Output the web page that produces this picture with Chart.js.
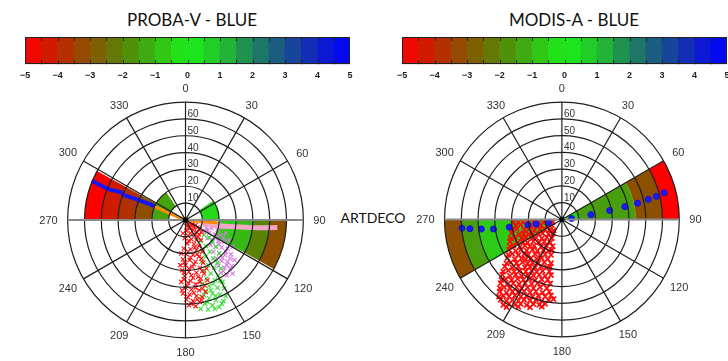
<!DOCTYPE html>
<html>
<head>
<meta charset="utf-8">
<script src="https://cdn.jsdelivr.net/npm/chart.js@4.4.0/dist/chart.umd.min.js"></script>
<style>
  html, body { margin: 0; padding: 0; width: 728px; height: 361px; overflow: hidden; background: #fff; }
  canvas { position: absolute; }
  .txt { position: absolute; font-family: Lato, "Open Sans", sans-serif; color: #111; transform: translateX(-50%); white-space: nowrap; }
</style>
</head>
<body>
<div class="txt" style="left:192px; top:10px; font-size:17px; line-height:20px">PROBA-V - BLUE</div>
<div class="txt" style="left:574px; top:10px; font-size:17px; line-height:20px">MODIS-A - BLUE</div>
<div class="txt" style="left:373px; top:210px; font-size:14px; line-height:16px">ARTDECO</div>
<canvas id="cbLeft" width="346" height="59" style="left:14px; top:30px"></canvas>
<canvas id="cbRight" width="346" height="59" style="left:391px; top:30px"></canvas>
<canvas id="polarLeft" width="341" height="285" style="left:15px; top:76px"></canvas>
<canvas id="polarRight" width="338" height="285" style="left:390px; top:76px"></canvas>
<script>
// colour bar: band centres and labelled ticks
const cbBands = [-4.75, -4.25, -3.75, -3.25, -2.75, -2.25, -1.75, -1.25, -0.75, -0.25,
                 0.25, 0.75, 1.25, 1.75, 2.25, 2.75, 3.25, 3.75, 4.25, 4.75];
const cbTicks = [-5, -4, -3, -2, -1, 0, 1, 2, 3, 4, 5];
const cbMinor = [-4.5, -4, -3.5, -3, -2.5, -2, -1.5, -1, -0.5, 0, 0.5, 1, 1.5, 2, 2.5, 3, 3.5, 4, 4.5];

// polar axes: zenith rings and azimuth spokes
const zenithRings = [10, 20, 30, 40, 50, 60, 70];
const zenithLabels = [10, 20, 30, 40, 50, 60];
const azimuthTicks = [0, 30, 60, 90, 120, 150, 180, 210, 240, 270, 300, 330];
const azimuthLabels = ['0', '30', '60', '90', '120', '150', '180', '209', '240', '270', '300', '330'];

// sectors: [az from, az to, zenith from, zenith to, value on colour bar]
const probaSectors = [
  [270, 299, 20, 30, -3.1], [270, 299, 30, 40, -3.7], [270, 299, 40, 50, -4.2], [270, 299, 50, 60, -5],
  [270, 325, 10, 20, -1.4],
  [55, 90, 10, 20, -0.4],
  [90, 119, 20, 30, -0.6], [90, 119, 30, 40, -1.0], [90, 119, 40, 50, -2.0], [90, 119, 50, 60, -3.1]
];
const modisSectors = [
  [60, 90, 2, 10, -0.4], [60, 90, 10, 44, -1.5], [60, 90, 44, 60, -3.1], [60, 90, 60, 70, -5],
  [240, 270, 5, 50, -0.7], [240, 270, 50, 60, -1.5], [240, 270, 60, 70, -3.1]
];

// lines: [azimuth, zenith]
const probaBlue = [[292.8, 60.4], [292.2, 52.9], [291.8, 49.6], [293.5, 41.9], [292.1, 39.4], [293.1, 31.3], [293.2, 29.3], [294.2, 22.1], [293.4, 20.3]];
const probaOrange = [[293.4, 20.3], [292, 10], [0, 0], [96, 10], [95, 19]];
const probaPink = [[104.3, 9.3], [101.3, 15.3], [99.9, 20.3], [98.5, 26.3], [97.5, 32.3], [96.8, 38.3], [96, 44.2], [95.3, 50.2], [94.7, 54.7]];
const modisBlue = [[265, 59.8], [264.2, 55.1], [263.2, 48.4], [262, 41.2], [261.6, 31.7], [260.8, 20.5], [260, 15.6], [256.7, 8.3],
                   [84.3, 5.8], [80.5, 17.5], [79.3, 29], [78.4, 38.3], [77.8, 46.2], [76.8, 52.9], [76.2, 58], [75.3, 63]];

// point clouds: [east, north] in zenith degrees
const probaRed = [[0.5,-1.5],[2,-2],[3.5,-3],[1,-3.5],[5,-4],[7,-4.5],[2.5,-5],[4.5,-6],[8.5,-5.5],[0.5,-6.5],[6.5,-7],[3,-8],[9.5,-7.5],
  [1.5,-9.5],[5.5,-9],[7.5,-10],[-0.5,-11],[3.5,-11.5],[9,-12],[1,-14],[5,-14.5],[8,-15.5],[-1,-17],[3,-17.5],[6.5,-18],[10,-19],
  [0.5,-20.5],[4.5,-21],[8,-22],[-1.5,-23.5],[2.5,-24],[6,-25],[10.5,-25.5],[0,-27],[4,-28],[8.5,-28.5],[-2,-30],[2,-31],[6.5,-31.5],
  [11,-32],[-0.5,-33.5],[4.5,-34.5],[9,-35],[-2.5,-37],[1.5,-37.5],[6,-38.5],[11.5,-39],[0,-40.5],[3.5,-41.5],[8,-42],[-1.5,-44],
  [2.5,-44.5],[6.5,-45.5],[10,-46],[0.5,-47.5],[4.5,-48.5],[8.5,-49],[2,-51],[6,-51.5],[12,-43],[13,-36],[-3,-27],[12.5,-29],
  [1.5,-4.5],[4,-2.5],[6,-3],[8,-8.5],[2,-12.5],[6.5,-12],[-1.5,-8],[5.5,-16.5],[1.5,-19],[-2.5,-20],[7,-20.5],[3,-22.5],
  [9.5,-23],[-0.5,-25.5],[5,-26.5],[2,-29],[10,-30.5],[-1,-31.5],[3.5,-33],[7.5,-34],[-1,-35.5],[3,-36.5],[8.5,-37],[1,-39.5],
  [6,-40.5],[10,-41],[-2,-42],[5,-43.5],[1.5,-46],[7,-47.5],[3.5,-50],[9.5,-48]];
const probaGreen = [[11,-9],[14,-10.5],[9,-12.5],[16,-13],[12,-15.5],[18,-16],[10,-18.5],[14.5,-19],[20,-20],[12,-22],[16.5,-23],
  [9.5,-25],[19,-25.5],[13.5,-27],[17,-28.5],[21,-29],[11,-30.5],[15,-32],[19.5,-33],[12.5,-35],[17.5,-36],[22,-37],[10,-38],
  [14,-39.5],[19,-40.5],[23,-41],[12,-42.5],[16,-44],[20.5,-44.5],[9.5,-46],[14,-47],[18,-48],[22.5,-48.5],[11.5,-50],[16,-51],
  [20,-52],[13.5,-53.5],[9,-53],[15,-42],[18,-45.5],[13,-49],[17.5,-53],[21.5,-50],[11,-45],[24,-45.5],[16.5,-38],[20.5,-36.5]];
const probaViolet = [[11,-2],[14,-1.5],[17,-3],[20,-2.5],[12.5,-4.5],[15.5,-5],[19,-6],[22,-4.5],[11,-7],[14,-8],[17.5,-8.5],[21,-9],
  [24,-8],[13,-11],[16,-12],[19.5,-12.5],[23,-13],[26,-12],[15,-15],[18,-16],[21.5,-16.5],[25,-17],[28,-16],[16.5,-19],[20,-20],
  [23.5,-21],[27,-20.5],[18,-23],[21.5,-24.5],[25,-25],[29,-24],[19.5,-27.5],[23,-28.5],[26.5,-29],[21,-31.5],[24.5,-33],[28,-32],
  [13,-6],[18.5,-10.5],[16,-3.5],[22.5,-11],[20,-14.5],[24,-19],[22,-22.5],[26.5,-23],[24.5,-27],[27.5,-27.5],[22.5,-30.5]];
const modisRed = [
  [-29,-1.5],[-26,-1.8],[-23,-1.4],[-20,-1.7],[-17,-1.5],[-14,-1.8],[-11,-1.4],[-8,-1.6],[-5.5,-1.5],
  [-27.5,-3.9],[-24.5,-3.2],[-21,-3.7],[-18.5,-3.3],[-15,-4],[-12.5,-3.4],[-9,-3.8],[-6,-3.3],
  [-29.5,-6.3],[-27,-5.6],[-22.5,-6.4],[-19.5,-5.8],[-16.5,-6.5],[-13,-5.7],[-10,-6.2],[-7,-5.9],[-5,-6.6],
  [-30,-8.2],[-25.5,-8.9],[-23,-8.3],[-20,-8.8],[-17.5,-8.1],[-14,-9],[-11.5,-8.4],[-8,-8.7],[-5.5,-8.3],
  [-30.5,-11.4],[-28,-10.7],[-24,-11.2],[-21.5,-10.6],[-18,-11.5],[-15.5,-10.8],[-12,-11.3],[-9,-10.7],[-6,-11.2],
  [-31,-13.2],[-26.5,-13.9],[-23.5,-13.3],[-20.5,-13.8],[-17,-13.1],[-13.5,-13.7],[-10.5,-13.2],[-7,-13.9],
  [-31,-16.3],[-29,-15.6],[-25,-16.4],[-22,-15.7],[-19,-16.2],[-16.5,-15.8],[-12.5,-16.5],[-9.5,-15.7],[-5.5,-16.1],
  [-31.5,-18.2],[-27.5,-18.9],[-24.5,-18.3],[-21,-18.7],[-17.5,-18.1],[-14.5,-18.9],[-11,-18.4],[-8,-18.8],[-6,-18.2],
  [-32,-21.3],[-29.5,-20.6],[-26,-21.4],[-22.5,-20.7],[-20,-21.2],[-16,-20.8],[-13,-21.5],[-10,-20.9],[-6.5,-21.3],
  [-32.5,-23.1],[-28,-23.8],[-24,-23.2],[-21.5,-23.9],[-18.5,-23.3],[-15,-23.7],[-12,-23.1],[-8.5,-23.8],
  [-33,-26.4],[-30.5,-25.7],[-27,-26.2],[-23.5,-25.6],[-20.5,-26.5],[-17.5,-25.8],[-14,-26.3],[-10.5,-25.7],[-6.5,-26.2],
  [-34,-28.2],[-29.5,-28.9],[-26,-28.1],[-22,-28.8],[-19,-28.3],[-16,-28.9],[-12.5,-28.2],[-9,-28.7],[-7,-28.3],
  [-35,-31.3],[-32,-30.6],[-28.5,-31.4],[-25,-30.7],[-21.5,-31.2],[-18,-30.8],[-15,-31.5],[-11.5,-30.9],[-7.5,-31.2],
  [-35.5,-33.2],[-31,-33.8],[-27.5,-33.1],[-24,-33.9],[-20.5,-33.3],[-17,-33.7],[-13.5,-33.2],[-10,-33.9],[-6.5,-33.4],
  [-36,-36.3],[-33.5,-35.7],[-30,-36.4],[-26.5,-35.6],[-23,-36.2],[-19.5,-35.8],[-16,-36.5],[-12,-35.9],[-8.5,-36.2],
  [-36.5,-38.2],[-32.5,-38.9],[-29,-38.3],[-25.5,-38.8],[-22,-38.1],[-18,-38.7],[-14.5,-38.2],[-11,-38.9],[-7,-38.4],
  [-37,-41.3],[-34.5,-40.6],[-31,-41.2],[-27,-40.7],[-24,-41.4],[-20.5,-40.8],[-17,-41.3],[-13,-40.6],[-9,-41.2],
  [-37,-43.2],[-33,-43.9],[-29.5,-43.3],[-26,-43.8],[-22.5,-43.1],[-19,-43.7],[-15.5,-43.2],[-11.5,-43.9],[-7.5,-43.4],
  [-37.5,-46.3],[-35,-45.7],[-31.5,-46.2],[-28,-45.6],[-24.5,-46.4],[-21,-45.8],[-17.5,-46.3],[-14,-45.7],[-10,-46.2],[-6.5,-45.5],
  [-36.5,-48.2],[-33,-48.9],[-29.5,-48.3],[-26,-48.8],[-22.5,-48.1],[-19,-48.7],[-15.5,-48.2],[-12,-48.9],[-8,-48.4],[-5,-47.8],
  [-35,-51.3],[-31.5,-50.6],[-28,-51.2],[-24.5,-50.7],[-21,-51.4],[-17,-50.8],[-13.5,-51.3],[-10,-50.7],
  [-33,-52.6],[-26,-52.4],[-19,-52.7],[-12,-52.3]
];

// colour map anchors (value -> rgb)
const cmapStops = [
  [-5, [255, 0, 0]], [-4, [195, 35, 0]], [-3, [135, 85, 0]], [-2, [90, 130, 5]], [-1, [55, 185, 20]],
  [0, [25, 240, 25]], [1, [35, 195, 45]], [2, [30, 130, 90]], [3, [25, 80, 140]], [4, [15, 35, 195]], [5, [0, 0, 255]]
];

Chart.defaults.font.family = '"Liberation Sans", Arial, sans-serif';

const rad = d => d * Math.PI / 180;

function colormap(v) {
  for (let i = 0; i < cmapStops.length - 1; i++) {
    const [v0, c0] = cmapStops[i], [v1, c1] = cmapStops[i + 1];
    if (v <= v1 || i === cmapStops.length - 2) {
      const t = Math.max(0, Math.min(1, (v - v0) / (v1 - v0)));
      const c = c0.map((a, j) => Math.round(a + (c1[j] - a) * t));
      return `rgb(${c[0]},${c[1]},${c[2]})`;
    }
  }
}

const polarToXY = ([az, zen]) => ({ x: zen * Math.sin(rad(az)), y: zen * Math.cos(rad(az)) });
const pairToXY = ([x, y]) => ({ x, y });

// frame and inner tick marks of the colour bar
const cbFrame = {
  id: 'cbFrame',
  afterDatasetsDraw(chart) {
    const { ctx, chartArea: a, scales: { x } } = chart;
    ctx.save();
    ctx.strokeStyle = '#222';
    ctx.lineWidth = 1;
    cbMinor.forEach(v => {
      const px = Math.round(x.getPixelForValue(v)) + 0.5;
      ctx.beginPath();
      ctx.moveTo(px, a.top); ctx.lineTo(px, a.top + 4);
      ctx.moveTo(px, a.bottom); ctx.lineTo(px, a.bottom - 4);
      ctx.stroke();
    });
    ctx.strokeRect(Math.round(a.left) + 0.5, Math.round(a.top) + 0.5, Math.round(a.width) - 1, Math.round(a.height) - 1);
    ctx.restore();
  }
};

function makeColorbar(id) {
  new Chart(document.getElementById(id), {
    type: 'bar',
    data: {
      datasets: [{
        data: cbBands.map(v => ({ x: v, y: 1 })),
        backgroundColor: cbBands.map(v => colormap(v)),
        borderWidth: 0,
        barPercentage: 1,
        categoryPercentage: 1
      }]
    },
    options: {
      responsive: false,
      animation: false,
      events: [],
      layout: { padding: { left: 10, right: 10, top: 7, bottom: 2 } },
      plugins: { legend: { display: false }, tooltip: { enabled: false } },
      scales: {
        x: {
          type: 'linear', min: -5, max: 5, offset: false,
          grid: { display: false, drawTicks: false },
          border: { display: false },
          afterBuildTicks: s => { s.ticks = cbTicks.map(v => ({ value: v })); },
          ticks: {
            padding: 6, maxRotation: 0, autoSkip: false, color: '#222',
            font: { size: 9, weight: 'bold' },
            callback: v => (v < 0 ? '\u2212' + Math.abs(v) : String(v))
          }
        },
        y: { min: 0, max: 1, display: false }
      }
    },
    plugins: [cbFrame]
  });
}

// sectors under the data, rings/spokes/labels over it
const polarFrame = {
  id: 'polarFrame',
  beforeDatasetsDraw(chart, args, opts) {
    const { ctx, scales: { x, y } } = chart;
    const cx = x.getPixelForValue(0), cy = y.getPixelForValue(0);
    const k = x.getPixelForValue(1) - cx;
    ctx.save();
    opts.sectors.forEach(([a0, a1, r0, r1, v]) => {
      ctx.beginPath();
      ctx.arc(cx, cy, r1 * k, rad(a0 - 90), rad(a1 - 90));
      ctx.arc(cx, cy, r0 * k, rad(a1 - 90), rad(a0 - 90), true);
      ctx.closePath();
      ctx.fillStyle = colormap(v);
      ctx.fill();
    });
    ctx.restore();
  },
  afterDatasetsDraw(chart) {
    const { ctx, scales: { x, y } } = chart;
    const cx = x.getPixelForValue(0), cy = y.getPixelForValue(0);
    const k = x.getPixelForValue(1) - cx;
    const R = zenithRings[zenithRings.length - 1] * k;
    ctx.save();
    ctx.strokeStyle = '#1e1e1e';
    ctx.lineWidth = 1.2;
    zenithRings.forEach(r => {
      ctx.beginPath();
      ctx.arc(cx, cy, r * k, 0, 2 * Math.PI);
      ctx.stroke();
    });
    azimuthTicks.filter(a => a < 180).forEach(a => {
      const dx = Math.sin(rad(a)) * R, dy = -Math.cos(rad(a)) * R;
      ctx.beginPath();
      ctx.moveTo(cx - dx, cy - dy);
      ctx.lineTo(cx + dx, cy + dy);
      if (a === 90) { ctx.strokeStyle = '#8a8a8a'; ctx.lineWidth = 2; }
      else { ctx.strokeStyle = '#1e1e1e'; ctx.lineWidth = 1.2; }
      ctx.stroke();
    });
    ctx.fillStyle = '#000';
    ctx.beginPath();
    ctx.arc(cx, cy, 2.6, 0, 2 * Math.PI);
    ctx.fill();

    ctx.fillStyle = '#333';
    ctx.font = '10px "Liberation Sans", Arial, sans-serif';
    ctx.textAlign = 'left';
    ctx.textBaseline = 'alphabetic';
    zenithLabels.forEach(r => ctx.fillText(String(r), cx + 2, cy - r * k - 2));

    ctx.font = '11px "Liberation Sans", Arial, sans-serif';
    ctx.textAlign = 'center';
    ctx.textBaseline = 'middle';
    azimuthTicks.forEach((a, i) => {
      const txt = azimuthLabels[i];
      const w = ctx.measureText(txt).width, h = 8;
      const s = Math.abs(Math.sin(rad(a))), c = Math.abs(Math.cos(rad(a)));
      const edge = Math.min(s > 1e-6 ? w / 2 / s : 1e9, c > 1e-6 ? h / 2 / c : 1e9);
      const rr = R + 10 + edge;
      ctx.fillText(txt, cx + Math.sin(rad(a)) * rr, cy - Math.cos(rad(a)) * rr + 1);
    });
    ctx.restore();
  }
};

const RING_PX = 121.5 / 70;

function makePolar(id, centre, sectors, datasets) {
  const el = document.getElementById(id);
  const w = el.width, h = el.height;
  new Chart(el, {
    type: 'scatter',
    data: { datasets },
    options: {
      responsive: false,
      animation: false,
      events: [],
      layout: { padding: 0 },
      plugins: { legend: { display: false }, tooltip: { enabled: false }, polarFrame: { sectors } },
      scales: {
        x: { display: false, min: -centre[0] / RING_PX, max: (w - centre[0]) / RING_PX },
        y: { display: false, min: -(h - centre[1]) / RING_PX, max: centre[1] / RING_PX }
      }
    },
    plugins: [polarFrame]
  });
}

const cloud = (data, color, size, width) => ({
  data: data.map(pairToXY), pointStyle: 'crossRot', pointRadius: size, borderColor: color, borderWidth: width
});
const track = (data, color, width) => ({
  data: data.map(polarToXY), showLine: true, pointRadius: 0, borderColor: color, borderWidth: width, tension: 0
});

makeColorbar('cbLeft');
makeColorbar('cbRight');

makePolar('polarLeft', [170.5, 144], probaSectors, [
  track(probaBlue, '#1414ff', 4),
  track(probaOrange, '#ff8a00', 3),
  track(probaPink, '#f4a6c6', 5),
  cloud(probaRed, '#ff1010', 3, 1.1),
  cloud(probaGreen, '#33e033', 3, 1.1),
  cloud(probaViolet, '#d878e4', 3, 1.1)
]);

makePolar('polarRight', [172, 143.5], modisSectors, [
  { data: modisBlue.map(polarToXY), pointStyle: 'circle', pointRadius: 3, backgroundColor: '#1a1aff', borderColor: '#1010d0', borderWidth: 1 },
  cloud(modisRed, '#ff0a0a', 3.6, 1.7)
]);
</script>
</body>
</html>
